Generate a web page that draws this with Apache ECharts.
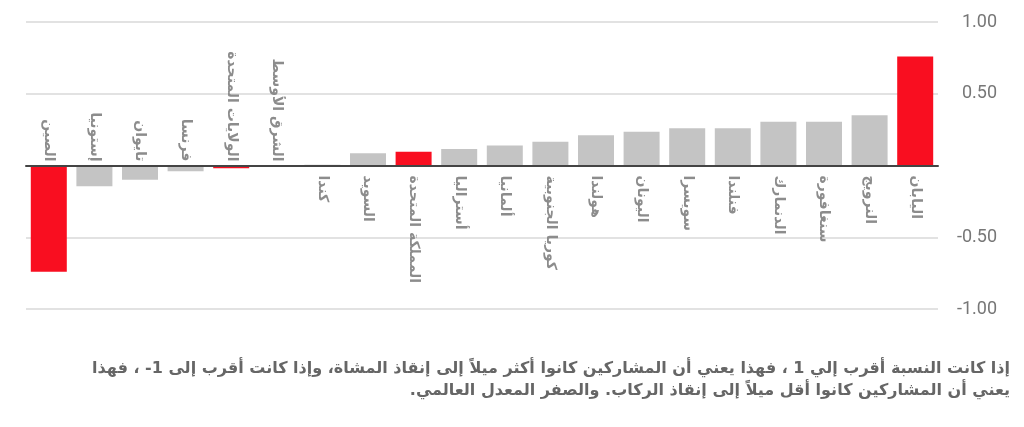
<!DOCTYPE html>
<html>
<head>
<meta charset="utf-8">
<script src="https://cdn.jsdelivr.net/npm/echarts@6/dist/echarts.min.js"></script>
<style>
html,body{margin:0;padding:0;background:#fff;}
#chart{width:1024px;height:427px;}
</style>
</head>
<body>
<div id="chart"></div>
<script>
// Categories (left to right)
const categories = ['الصين','إستونيا','تايوان','فرنسا','الولايات المتحدة','الشرق الأوسط','كندا','السويد','المملكة المتحدة','أستراليا','ألمانيا','كوريا الجنوبية','هولندا','اليونان','سويسرا','فنلندا','الدنمارك','سنغافورة','النرويج','اليابان'];
// Values
const values = [-0.74,-0.145,-0.10,-0.04,-0.02,-0.01,0.005,0.085,0.095,0.115,0.14,0.165,0.21,0.235,0.26,0.26,0.305,0.305,0.35,0.76];
// Highlighted categories
const highlighted = ['الصين','الولايات المتحدة','المملكة المتحدة','اليابان'];
// Y axis ticks
const yTicks = {min:-1, max:1, interval:0.5};
const captionLines = [
  'إذا كانت النسبة أقرب إلي 1 ، فهذا يعني أن المشاركين كانوا أكثر ميلاً إلى إنقاذ المشاة، وإذا كانت أقرب إلى 1- ، فهذا',
  'يعني أن المشاركين كانوا أقل ميلاً إلى إنقاذ الركاب. والصفر المعدل العالمي.'
];

const RED = '#f90e20', GREY = '#c4c4c4';
const RLM = '\u200F';

const data = values.map((v, i) => {
  const hi = highlighted.indexOf(categories[i]) >= 0;
  return {
    value: v,
    itemStyle: {color: hi ? RED : GREY},
    label: v >= 0
      ? {position: 'bottom', align: 'left', distance: 10}
      : {position: 'top', align: 'right', distance: 4}
  };
});

const chart = echarts.init(document.getElementById('chart'), null, {renderer: 'canvas'});
chart.setOption({
  animation: false,
  backgroundColor: '#fff',
  grid: {left: 26, right: 86, top: 22, bottom: 118, containLabel: false},
  xAxis: {
    type: 'category',
    data: categories,
    axisLine: {onZero: true, lineStyle: {color: '#444', width: 2}},
    axisTick: {show: false},
    axisLabel: {show: false},
    splitLine: {show: false},
    z: 10
  },
  yAxis: {
    type: 'value',
    position: 'right',
    min: yTicks.min, max: yTicks.max, interval: yTicks.interval,
    axisLine: {show: false},
    axisTick: {show: false},
    splitLine: {lineStyle: {color: '#e2e2e2', width: 2}},
    axisLabel: {
      align: 'right',
      margin: 59,
      color: '#777',
      fontFamily: 'Roboto',
      fontSize: 18,
      formatter: v => v === 0 ? '' : v.toFixed(2)
    }
  },
  series: [{
    type: 'bar',
    data: data,
    barWidth: 36,
    label: {
      show: true,
      rotate: -90,
      verticalAlign: 'middle',
      color: '#8c8c8c',
      fontSize: 14,
      fontWeight: 'bold',
      fontFamily: 'DejaVu Sans',
      formatter: p => categories[p.dataIndex]
    }
  }],
  graphic: captionLines.map((t, i) => ({
    type: 'text',
    right: 14,
    top: 361 + i * 22,
    style: {
      text: RLM + t + RLM,
      fill: '#666',
      font: 'bold 16px "DejaVu Sans"',
      textAlign: 'right'
    }
  }))
});
</script>
</body>
</html>
